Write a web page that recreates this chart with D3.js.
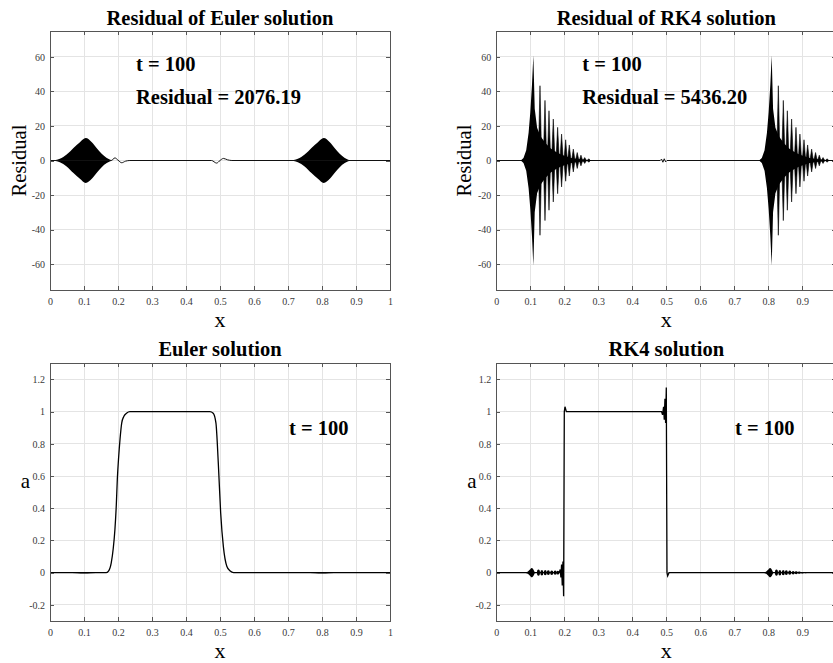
<!DOCTYPE html>
<html>
<head>
<meta charset="utf-8">
<script src="https://cdn.jsdelivr.net/npm/d3@7"></script>
<style>
  body { margin: 0; background: #fff; }
  svg { display: block; }
  text { font-family: "Liberation Serif", "Times New Roman", serif; }
</style>
</head>
<body>
<div id="chart"></div>
<script>
// ---- tick values / labels ----
var xTicks = [0, 0.1, 0.2, 0.3, 0.4, 0.5, 0.6, 0.7, 0.8, 0.9, 1];
var xTickLabels = ['0', '0.1', '0.2', '0.3', '0.4', '0.5', '0.6', '0.7', '0.8', '0.9', '1'];
var residualTicks = [-60, -40, -20, 0, 20, 40, 60];
var residualTickLabels = ['-60', '-40', '-20', '0', '20', '40', '60'];
var solutionTicks = [-0.2, 0, 0.2, 0.4, 0.6, 0.8, 1, 1.2];
var solutionTickLabels = ['-0.2', '0', '0.2', '0.4', '0.6', '0.8', '1', '1.2'];

// ---- Euler residual: oscillating packet envelope (repeated at two positions) ----
var packetShifts = [0, 0.7];
var eulerResPacketX = [0.005, 0.029, 0.049, 0.069, 0.088, 0.105, 0.123, 0.137, 0.152, 0.167, 0.181];
var eulerResPacketA = [0, 1, 3.5, 7.3, 10.6, 13, 10.6, 7.3, 3.9, 1.5, 0.2];
var eulerResLineX = [0, 0.18, 0.191, 0.2, 0.211, 0.222, 0.235, 0.475, 0.49, 0.5, 0.51, 0.522, 0.535, 1];
var eulerResLineY = [0, 0, 1.5, 0.2, -1.3, -0.4, 0, 0, -1.5, 0, 1.2, 0.4, 0, 0];

// ---- RK4 residual: body envelope + spikes ----
var rk4ResShifts = [0, 0.701];
var rk4ResBodyX = [0.072, 0.08, 0.088, 0.095, 0.1, 0.105, 0.109, 0.113, 0.12, 0.13, 0.145, 0.16, 0.175, 0.19, 0.205, 0.22, 0.24, 0.26, 0.28, 0.3];
var rk4ResBodyA = [0, 1.5, 6, 16, 28, 44, 61, 30, 19, 14, 10, 7, 5, 3.5, 2.4, 1.5, 0.8, 0.4, 0.15, 0];
var rk4SpikeX = [0.1285, 0.1432, 0.155, 0.1676, 0.1804, 0.192, 0.204, 0.2147, 0.2265, 0.238, 0.249, 0.26, 0.272];
var rk4SpikeA = [43.3, 34.8, 28.8, 24, 19.2, 15.3, 12, 9, 6.6, 4.6, 3.1, 1.7, 1];
var rk4ResLineX = [0, 0.482, 0.486, 0.49, 0.494, 0.498, 0.502, 1];
var rk4ResLineY = [0, 0, 0.8, -1, 1, -0.8, 0, 0];

// ---- Euler solution ----
var eulerSolX = [0, 0.165, 0.172, 0.18, 0.186, 0.191, 0.195, 0.198, 0.202, 0.206, 0.211, 0.217, 0.225, 0.235,
                 0.47, 0.48, 0.488, 0.495, 0.502, 0.51, 0.52, 0.53, 0.54, 1];
var eulerSolA = [0, 0, 0.01, 0.06, 0.15, 0.27, 0.42, 0.58, 0.72, 0.83, 0.93, 0.97, 0.99, 1,
                 1, 0.99, 0.93, 0.68, 0.37, 0.16, 0.04, 0.01, 0, 0];
var eulerSolBlobX = [0.05, 0.08, 0.1, 0.12, 0.15];
var eulerSolBlobA = [0, 0.003, 0.005, 0.003, 0];

// ---- RK4 solution ----
var rk4SolX = [0, 0.185, 0.188, 0.19, 0.192, 0.194, 0.196, 0.198, 0.2, 0.202, 0.206,
               0.486, 0.489, 0.492, 0.494, 0.496, 0.498, 0.5, 0.502, 0.504, 0.508, 1];
var rk4SolA = [0, 0, 0.02, -0.03, 0.05, -0.08, 0.07, -0.147, 1, 1.03, 1,
               1, 0.98, 1.03, 0.95, 1.08, 0.93, 1.15, 0, -0.02, 0, 0];
var rk4MainBlobX = [0.085, 0.093, 0.099, 0.104, 0.109, 0.113];
var rk4MainBlobA = [0, 0.007, 0.019, 0.029, 0.02, 0.003];
var rk4BlobShifts = [0, 0.701];
var rk4SmallBlobsAX = [0.124, 0.134, 0.144, 0.153, 0.163, 0.173, 0.181];
var rk4SmallBlobsAA = [0.019, 0.017, 0.016, 0.015, 0.014, 0.013, 0.012];
var rk4SmallBlobsBX = [0.824, 0.834, 0.844, 0.853, 0.863, 0.873, 0.882, 0.891, 0.9, 0.91];
var rk4SmallBlobsBA = [0.019, 0.017, 0.016, 0.015, 0.013, 0.011, 0.009, 0.007, 0.005, 0.003];

var width = 833, height = 663, plotW = 340;

var svg = d3.select('#chart').append('svg')
  .attr('width', width)
  .attr('height', height);

function zip(xs, ys, shift) {
  return xs.map(function (d, i) { return {x: d + (shift || 0), v: ys[i]}; });
}

function makePanel(p) {
  var g = svg.append('g').attr('transform', 'translate(' + p.left + ',' + p.top + ')');
  var x = d3.scaleLinear().domain([0, 1]).range([0, plotW]);
  var y = d3.scaleLinear().domain(p.yDomain).range([p.height, 0]);

  // grid
  g.append('g').selectAll('line').data(xTicks).join('line')
    .attr('x1', function (d) { return x(d); }).attr('x2', function (d) { return x(d); })
    .attr('y1', 0).attr('y2', p.height)
    .attr('stroke', '#e4e4e4').attr('shape-rendering', 'crispEdges');
  g.append('g').selectAll('line').data(p.yTicks).join('line')
    .attr('y1', function (d) { return y(d); }).attr('y2', function (d) { return y(d); })
    .attr('x1', 0).attr('x2', plotW)
    .attr('stroke', '#e4e4e4').attr('shape-rendering', 'crispEdges');

  svg.append('clipPath').attr('id', p.id + '-clip')
    .append('rect').attr('width', plotW).attr('height', p.height);
  var plot = g.append('g').attr('clip-path', 'url(#' + p.id + '-clip)');

  return {g: g, x: x, y: y, plot: plot, h: p.height, p: p};
}

function finishPanel(P) {
  var g = P.g, p = P.p;
  // labels that would fall past the right edge of the figure are left out (as in the original)
  var visibleX = xTicks.filter(function (d) { return p.left + P.x(d) + 3 < width; });
  var xAxis = d3.axisBottom(P.x).tickValues(xTicks)
    .tickFormat(function (d, i) { return visibleX.indexOf(d) >= 0 ? xTickLabels[i] : ''; })
    .tickSizeInner(-4).tickSizeOuter(0).tickPadding(7.5);
  var yAxis = d3.axisLeft(P.y).tickValues(p.yTicks)
    .tickFormat(function (d, i) { return p.yTickLabels[i]; })
    .tickSizeInner(-4).tickSizeOuter(0).tickPadding(5);

  g.append('g').attr('transform', 'translate(0,' + P.h + ')').call(xAxis);
  g.append('g').call(yAxis);
  g.append('g').call(d3.axisTop(P.x).tickValues(xTicks).tickFormat('').tickSizeInner(-4).tickSizeOuter(0));
  g.append('g').attr('transform', 'translate(' + plotW + ',0)')
    .call(d3.axisRight(P.y).tickValues(p.yTicks).tickFormat('').tickSizeInner(-4).tickSizeOuter(0));

  g.selectAll('.domain, .tick line').attr('stroke', '#555').attr('shape-rendering', 'crispEdges');
  g.selectAll('.tick text')
    .attr('fill', '#3a3a3a')
    .style('font-size', '10px')
    .style('font-family', '"Liberation Serif", "Times New Roman", serif');

  // title
  g.append('text').attr('x', plotW / 2).attr('y', p.titleY)
    .attr('text-anchor', 'middle').attr('font-weight', 'bold').attr('font-size', 20.5)
    .text(p.title);
  // x label
  g.append('text').attr('x', plotW / 2).attr('y', P.h + 37)
    .attr('text-anchor', 'middle').attr('font-size', 22).text('x');
  // y label
  if (p.ylabelRotate) {
    g.append('text').attr('transform', 'translate(' + p.ylabelX + ',' + (P.h / 2) + ') rotate(-90)')
      .attr('text-anchor', 'middle').attr('font-size', 20.5).text(p.ylabel);
  } else {
    g.append('text').attr('x', p.ylabelX).attr('y', p.ylabelY)
      .attr('text-anchor', 'middle').attr('font-size', 21).text(p.ylabel);
  }
  // annotations
  p.notes.forEach(function (n) {
    g.append('text').attr('x', P.x(n.x)).attr('y', P.y(n.y))
      .attr('font-weight', 'bold').attr('font-size', 20.5).text(n.text);
  });
}

function envelopeArea(P, curve) {
  return d3.area()
    .x(function (d) { return P.x(d.x); })
    .y0(function (d) { return P.y(-d.v); })
    .y1(function (d) { return P.y(d.v); })
    .curve(curve || d3.curveMonotoneX);
}

function lineGen(P, curve) {
  return d3.line()
    .x(function (d) { return P.x(d.x); })
    .y(function (d) { return P.y(d.v); })
    .curve(curve || d3.curveLinear);
}

// ================= Panel 1: Residual of Euler =================
var P1 = makePanel({
  id: 'p1', left: 50, top: 31, height: 259, yDomain: [-75, 75],
  yTicks: residualTicks, yTickLabels: residualTickLabels,
  title: 'Residual of Euler solution', titleY: -6,
  ylabel: 'Residual', ylabelRotate: true, ylabelX: -24.5,
  notes: [{x: 0.253, y: 51.7, text: 't = 100'}, {x: 0.253, y: 32.9, text: 'Residual = 2076.19'}]
});
packetShifts.forEach(function (s) {
  P1.plot.append('path').datum(zip(eulerResPacketX, eulerResPacketA, s))
    .attr('d', envelopeArea(P1)).attr('fill', '#000');
});
P1.plot.append('path').datum(zip(eulerResLineX, eulerResLineY))
  .attr('d', lineGen(P1, d3.curveMonotoneX))
  .attr('fill', 'none').attr('stroke', '#111').attr('stroke-width', 1);
finishPanel(P1);

// ================= Panel 2: Residual of RK4 =================
var P2 = makePanel({
  id: 'p2', left: 496.3, top: 31, height: 259, yDomain: [-75, 75],
  yTicks: residualTicks, yTickLabels: residualTickLabels,
  title: 'Residual of RK4 solution', titleY: -6,
  ylabel: 'Residual', ylabelRotate: true, ylabelX: -25.3,
  notes: [{x: 0.253, y: 51.7, text: 't = 100'}, {x: 0.253, y: 32.9, text: 'Residual = 5436.20'}]
});
P2.plot.append('path').datum(zip(rk4ResLineX, rk4ResLineY))
  .attr('d', lineGen(P2))
  .attr('fill', 'none').attr('stroke', '#111').attr('stroke-width', 1);
rk4ResShifts.forEach(function (s) {
  P2.plot.append('path').datum(zip(rk4ResBodyX, rk4ResBodyA, s))
    .attr('d', envelopeArea(P2, d3.curveLinear)).attr('fill', '#000');
  var spikes = zip(rk4SpikeX, rk4SpikeA, s);
  P2.plot.append('g').selectAll('path').data(spikes).join('path')
    .attr('d', function (d) {
      var cx = P2.x(d.x), hw = 1.7;
      return 'M' + (cx - hw) + ',' + P2.y(0) + 'L' + cx + ',' + P2.y(d.v) +
             'L' + (cx + hw) + ',' + P2.y(0) + 'L' + cx + ',' + P2.y(-d.v) + 'Z';
    })
    .attr('fill', '#000').attr('stroke', '#000').attr('stroke-width', 0.6);
});
finishPanel(P2);

// ================= Panel 3: Euler solution =================
var P3 = makePanel({
  id: 'p3', left: 50, top: 363.3, height: 257.7, yDomain: [-0.3, 1.3],
  yTicks: solutionTicks, yTickLabels: solutionTickLabels,
  title: 'Euler solution', titleY: -7,
  ylabel: 'a', ylabelRotate: false, ylabelX: -24.7, ylabelY: 125,
  notes: [{x: 0.703, y: 0.854, text: 't = 100'}]
});
packetShifts.forEach(function (s) {
  P3.plot.append('path').datum(zip(eulerSolBlobX, eulerSolBlobA, s))
    .attr('d', envelopeArea(P3)).attr('fill', '#000');
});
P3.plot.append('path').datum(zip(eulerSolX, eulerSolA))
  .attr('d', lineGen(P3, d3.curveMonotoneX))
  .attr('fill', 'none').attr('stroke', '#000').attr('stroke-width', 1.3);
finishPanel(P3);

// ================= Panel 4: RK4 solution =================
var P4 = makePanel({
  id: 'p4', left: 496.3, top: 363.3, height: 257.7, yDomain: [-0.3, 1.3],
  yTicks: solutionTicks, yTickLabels: solutionTickLabels,
  title: 'RK4 solution', titleY: -7,
  ylabel: 'a', ylabelRotate: false, ylabelX: -24.3, ylabelY: 125,
  notes: [{x: 0.702, y: 0.854, text: 't = 100'}]
});
P4.plot.append('path').datum(zip(rk4SolX, rk4SolA))
  .attr('d', lineGen(P4))
  .attr('fill', 'none').attr('stroke', '#000').attr('stroke-width', 1.3);
rk4BlobShifts.forEach(function (s) {
  P4.plot.append('path').datum(zip(rk4MainBlobX, rk4MainBlobA, s))
    .attr('d', envelopeArea(P4)).attr('fill', '#000');
});
[zip(rk4SmallBlobsAX, rk4SmallBlobsAA), zip(rk4SmallBlobsBX, rk4SmallBlobsBA)].forEach(function (blobs) {
  P4.plot.append('g').selectAll('ellipse').data(blobs).join('ellipse')
    .attr('cx', function (d) { return P4.x(d.x); })
    .attr('cy', P4.y(0))
    .attr('rx', 1.5)
    .attr('ry', function (d) { return P4.y(0) - P4.y(d.v); })
    .attr('fill', '#000');
});
finishPanel(P4);
</script>
</body>
</html>
